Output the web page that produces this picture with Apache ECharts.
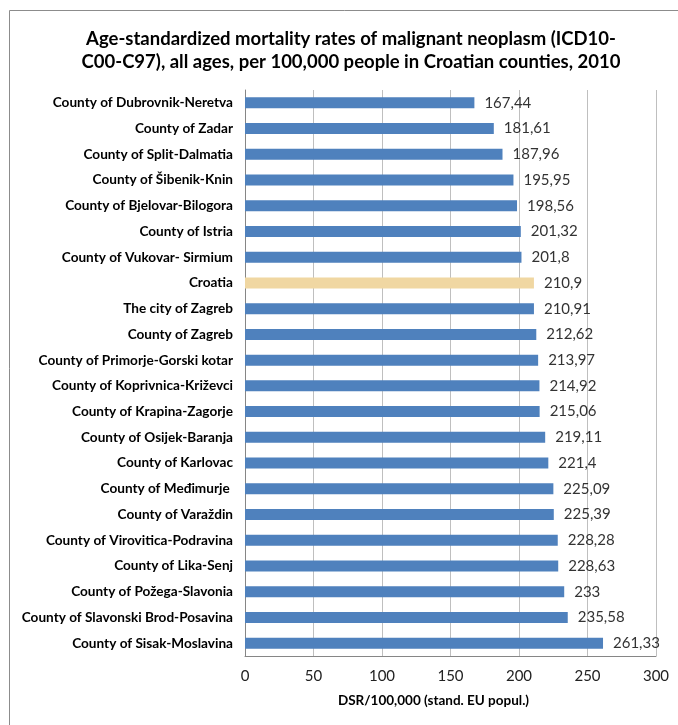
<!DOCTYPE html>
<html>
<head>
<meta charset="utf-8">
<script src="https://cdn.jsdelivr.net/npm/echarts@6/dist/echarts.min.js"></script>
<style>html,body{margin:0;padding:0;background:#fff;}#c{width:678px;height:725px;}</style>
</head>
<body>
<div id="c"></div>
<script>
const categories = [
  "County of Dubrovnik-Neretva","County of Zadar","County of Split-Dalmatia","County of Šibenik-Knin",
  "County of Bjelovar-Bilogora","County of Istria","County of Vukovar- Sirmium","Croatia",
  "The city of Zagreb","County of Zagreb","County of Primorje-Gorski kotar","County of Koprivnica-Križevci",
  "County of Krapina-Zagorje","County of Osijek-Baranja","County of Karlovac","County of Međimurje ",
  "County of Varaždin","County of Virovitica-Podravina","County of Lika-Senj","County of Požega-Slavonia",
  "County of Slavonski Brod-Posavina","County of Sisak-Moslavina"
];
const values = [167.44,181.61,187.96,195.95,198.56,201.32,201.8,210.9,210.91,212.62,213.97,214.92,215.06,219.11,221.4,225.09,225.39,228.28,228.63,233,235.58,261.33];
const highlight = "Croatia";
const xTicks = [0,50,100,150,200,250,300];

const FONT = 'Lato, "Open Sans", sans-serif';
const chart = echarts.init(document.getElementById('c'), null, {renderer:'canvas'});
chart.setOption({
  animation:false,
  backgroundColor:'#fff',
  title:{
    text:'Age-standardized mortality rates of malignant neoplasm (ICD10-\nC00-C97), all ages, per 100,000 people in Croatian counties, 2010',
    left:346, top:23, textAlign:'center',
    textStyle:{fontFamily:FONT,fontSize:18.5,fontWeight:'bold',color:'#000',lineHeight:23}
  },
  graphic:[{type:'rect',shape:{x:9.5,y:10.5,width:700,height:730},style:{fill:'none',stroke:'#8c8c8c',lineWidth:1},silent:true}],
  grid:{left:245,right:22,top:90,bottom:69,containLabel:false},
  xAxis:{
    type:'value',min:0,max:300,interval:50,
    axisLine:{show:true,lineStyle:{color:'#868686'}},
    axisTick:{show:false},
    splitLine:{show:true,lineStyle:{color:'#bfbfbf'}},
    axisLabel:{fontFamily:FONT,fontSize:15,color:'#222',margin:13,
      formatter:v=>xTicks.includes(v)?String(v):''},
    name:'DSR/100,000 (stand. EU popul.)',nameLocation:'middle',nameGap:38,
    nameTextStyle:{fontFamily:FONT,fontSize:13.5,fontWeight:'bold',color:'#000',padding:[0,34,0,0]}
  },
  yAxis:{
    type:'category',data:categories,inverse:true,
    axisLine:{show:true,lineStyle:{color:'#868686'}},
    axisTick:{show:false},
    axisLabel:{fontFamily:FONT,fontSize:13.6,fontWeight:'bold',color:'#000',margin:12}
  },
  series:[{
    type:'bar',barWidth:11,
    data:values.map((v,i)=>({value:v,itemStyle:{color:categories[i]===highlight?'#F0D7A2':'#4F81BD'}})),
    label:{show:true,position:'right',distance:10,fontFamily:FONT,fontSize:15,color:'#333',
      formatter:p=>String(p.value).replace('.',',')}
  }]
});
</script>
</body>
</html>
